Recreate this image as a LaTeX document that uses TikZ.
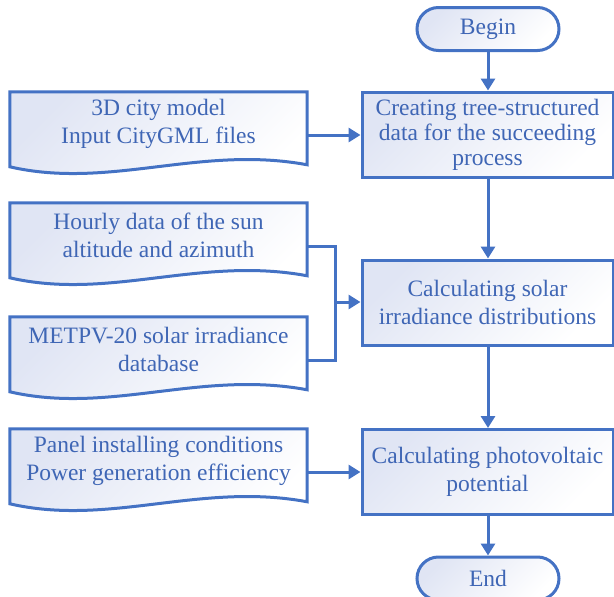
\documentclass[tikz,border=0pt]{standalone}
\usepackage{fontspec}
\setmainfont{Liberation Serif}
\usetikzlibrary{arrows.meta,calc}
\definecolor{lineblue}{HTML}{4472C4}
\definecolor{txtblue}{HTML}{3F66B5}
\definecolor{fillblue}{HTML}{E0E5F4}
\newcommand{\docpath}[1]{%
  \path[shapefill] (#1.north west) -- (#1.north east) -- ($(#1.north east)+(0,73)$)
    .. controls ($(#1.north east)+(-107,53)$) and ($(#1.north west)+(100,98)$) ..
    ($(#1.north west)+(0,75)$) -- cycle;}
\begin{document}
\begin{tikzpicture}[x=1pt,y=-1pt,
  every node/.style={font=\fontsize{23.5}{28}\selectfont, text=txtblue, align=center},
  shapefill/.style={top color=fillblue, bottom color=white, shading angle=45, draw=lineblue, line width=3pt},
  procbox/.style={shapefill, rectangle, minimum width=251pt, minimum height=85pt, inner sep=0pt},
  term/.style={shapefill, rectangle, rounded corners=21.5pt, minimum width=142pt, minimum height=43pt, inner sep=0pt},
  docarea/.style={rectangle, minimum width=297pt, minimum height=86pt, inner sep=0pt},
  flow/.style={draw=lineblue, line width=3pt, -{Triangle[length=12pt,width=14pt]}},
  link/.style={draw=lineblue, line width=3pt}
]
\useasboundingbox (0,0) rectangle (614,597);
\clip (0,0) rectangle (614,597);

% terminals and process boxes
\node[term] (b) at (488,29) {Begin};
\node[procbox, font=\fontsize{23.5}{25}\selectfont] (p1) at (487.5,134.5) {Creating tree-structured\\data for the succeeding\\process};
\node[procbox] (p2) at (487.5,302.5) {Calculating solar\\irradiance distributions};
\node[procbox] (p3) at (487.5,472) {Calculating photovoltaic\\potential};
\node[term] (e) at (488,578.5) {End};

% documents
\node[docarea] (d1) at (158.5,135) {};
\node[docarea] (d2) at (158.5,246) {};
\node[docarea] (d3) at (158.5,360) {};
\node[docarea] (d4) at (158.5,472) {};
\docpath{d1}
\docpath{d2}
\docpath{d3}
\docpath{d4}
\node (d1t) at ([yshift=11pt]d1.center) {3D city model\\Input CityGML files};
\node (d2t) at ([yshift=11pt]d2.center) {Hourly data of the sun\\altitude and azimuth};
\node (d3t) at ([yshift=11pt]d3.center) {METPV-20 solar irradiance\\database};
\node (d4t) at ([yshift=11pt]d4.center) {Panel installing conditions\\Power generation efficiency};

% connectors
\draw[flow] (b.south) -- (b.south |- p1.north);
\draw[flow] (p1.south -| b.south) -- (b.south |- p2.north);
\draw[flow] (p2.south -| b.south) -- (b.south |- p3.north);
\draw[flow] (p3.south -| b.south) -- (e.north);
\draw[flow] (d1.east) -- (d1.east -| p1.west);
\coordinate (j) at (335,302);
\draw[link] (d2.east) -| (j) |- (d3.east);
\draw[flow] (j) -- (j -| p2.west);
\draw[flow] (d4.east) -- (d4.east -| p3.west);
\end{tikzpicture}
\end{document}
